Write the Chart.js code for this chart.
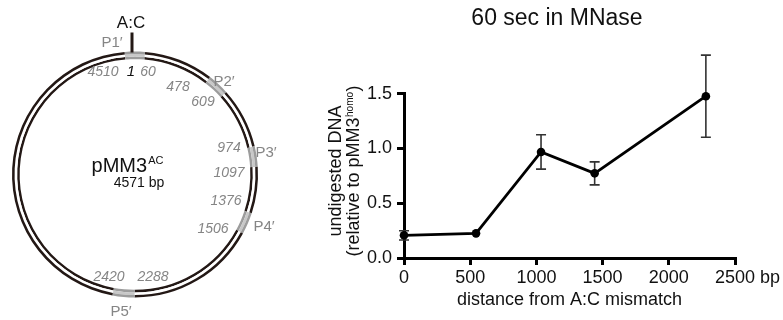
<!DOCTYPE html>
<html>
<head>
<meta charset="utf-8">
<script src="https://cdn.jsdelivr.net/npm/chart.js@4.4.1/dist/chart.umd.min.js"></script>
<style>
  html, body { margin: 0; padding: 0; background: #fff; }
  #wrap { position: relative; width: 783px; height: 320px; overflow: hidden; }
  #plasmidCanvas { position: absolute; left: 0; top: 0; }
  #mnaseCanvas { position: absolute; left: 300px; top: 0; }
</style>
</head>
<body>
<div id="wrap">
  <canvas id="plasmidCanvas" width="300" height="320"></canvas>
  <canvas id="mnaseCanvas" width="483" height="320"></canvas>
</div>
<script>
// plasmid map data
const plasmidLength = 4571;
const primerNames = ["P1′", "P2′", "P3′", "P4′", "P5′"];
const primerStart = [4510, 478, 974, 1376, 2288];
const primerEnd = [60, 609, 1097, 1506, 2420];

// MNase data (60 sec)
const distanceBp = [0, 544, 1035, 1440, 2280];
const undigested = [0.207, 0.225, 0.968, 0.773, 1.477];
const undigestedErr = [0.042, 0, 0.157, 0.105, 0.375];
const xTicks = [0, 500, 1000, 1500, 2000, 2500];
const yTicks = [0, 0.5, 1.0, 1.5];

const FONT = "'Liberation Sans', Arial, Helvetica, sans-serif";
Chart.defaults.font.family = FONT;
Chart.defaults.color = "#111";

const RING = "#231815";
const PRIMER = "#9c9c9c";
const PRIMER_MID = "#c8c8c8";
const LABEL_GREY = "#858585";

// cut the plasmid into segments at every primer end
function buildSegments() {
  const cuts = [0, plasmidLength].concat(primerStart, primerEnd);
  const uniq = [...new Set(cuts)].sort((a, b) => a - b);
  const segs = [];
  for (let i = 0; i < uniq.length - 1; i++) {
    const mid = (uniq[i] + uniq[i + 1]) / 2;
    const inPrimer = primerStart.some((s, k) => {
      const e = primerEnd[k];
      return s < e ? mid >= s && mid <= e : mid >= s || mid <= e;
    });
    segs.push({ len: uniq[i + 1] - uniq[i], primer: inPrimer });
  }
  return segs;
}
const segments = buildSegments();

// text around the plasmid
const plasmidLabels = [
  { t: "A:C", x: 131, y: 23, c: "#111", f: "17px " + FONT },
  { t: primerNames[0], x: 112, y: 43, c: LABEL_GREY, f: "15px " + FONT },
  { t: String(primerStart[0]), x: 103, y: 72, c: LABEL_GREY, f: "italic 14px " + FONT },
  { t: "1", x: 131, y: 72, c: "#111", f: "italic 15px " + FONT },
  { t: String(primerEnd[0]), x: 148, y: 72, c: LABEL_GREY, f: "italic 14px " + FONT },
  { t: primerNames[1], x: 224, y: 82, c: LABEL_GREY, f: "15px " + FONT },
  { t: String(primerStart[1]), x: 178, y: 87, c: LABEL_GREY, f: "italic 14px " + FONT },
  { t: String(primerEnd[1]), x: 203, y: 102, c: LABEL_GREY, f: "italic 14px " + FONT },
  { t: String(primerStart[2]), x: 229, y: 148, c: LABEL_GREY, f: "italic 14px " + FONT },
  { t: primerNames[2], x: 266, y: 153, c: LABEL_GREY, f: "15px " + FONT },
  { t: String(primerEnd[2]), x: 229, y: 173, c: LABEL_GREY, f: "italic 14px " + FONT },
  { t: String(primerStart[3]), x: 226, y: 201, c: LABEL_GREY, f: "italic 14px " + FONT },
  { t: primerNames[3], x: 264, y: 227, c: LABEL_GREY, f: "15px " + FONT },
  { t: String(primerEnd[3]), x: 213, y: 229, c: LABEL_GREY, f: "italic 14px " + FONT },
  { t: String(primerEnd[4]), x: 109, y: 277, c: LABEL_GREY, f: "italic 14px " + FONT },
  { t: String(primerStart[4]), x: 153, y: 277, c: LABEL_GREY, f: "italic 14px " + FONT },
  { t: primerNames[4], x: 121, y: 312, c: LABEL_GREY, f: "15px " + FONT },
  { t: plasmidLength + " bp", x: 139, y: 183, c: "#111", f: "14px " + FONT },
];

const plasmidTextPlugin = {
  id: "plasmidText",
  afterDraw(chart) {
    const ctx = chart.ctx;
    const ca = chart.chartArea;
    const cx = (ca.left + ca.right) / 2;
    ctx.save();
    // A:C mismatch tick
    ctx.strokeStyle = RING;
    ctx.lineWidth = 3;
    ctx.beginPath();
    ctx.moveTo(cx - 3, ca.top - 19);
    ctx.lineTo(cx - 3, ca.top + 1);
    ctx.stroke();

    ctx.textAlign = "center";
    ctx.textBaseline = "middle";
    plasmidLabels.forEach((l) => {
      ctx.font = l.f;
      ctx.fillStyle = l.c;
      ctx.fillText(l.t, l.x, l.y);
    });

    // plasmid name with superscript
    ctx.fillStyle = "#111";
    ctx.font = "20px " + FONT;
    const w1 = ctx.measureText("pMM3").width;
    ctx.font = "11px " + FONT;
    const w2 = ctx.measureText("AC").width;
    const start = 127 - (w1 + w2) / 2;
    ctx.textAlign = "left";
    ctx.font = "20px " + FONT;
    ctx.fillText("pMM3", start, 166);
    ctx.font = "11px " + FONT;
    ctx.fillText("AC", start + w1 + 1, 161);
    ctx.restore();
  },
};

new Chart(document.getElementById("plasmidCanvas"), {
  type: "doughnut",
  data: {
    labels: segments.map((s, i) => "seg" + i),
    datasets: [
      { data: segments.map((s) => s.len), backgroundColor: segments.map((s) => (s.primer ? PRIMER : RING)), weight: 1 },
      { data: segments.map((s) => s.len), backgroundColor: segments.map((s) => (s.primer ? PRIMER_MID : "#ffffff")), weight: 1 },
      { data: segments.map((s) => s.len), backgroundColor: segments.map((s) => (s.primer ? PRIMER : RING)), weight: 1 },
    ],
  },
  options: {
    responsive: false,
    animation: false,
    events: [],
    cutout: "93.8%",
    borderWidth: 0,
    hoverOffset: 0,
    offset: 0,
    layout: { padding: { left: 12, top: 51.5, right: 42, bottom: 22.5 } },
    plugins: { legend: { display: false }, tooltip: { enabled: false } },
  },
  plugins: [plasmidTextPlugin],
});

// error bars, drawn under the line and points
const errorBarPlugin = {
  id: "errorBars",
  beforeDatasetsDraw(chart) {
    const ctx = chart.ctx;
    const xs = chart.scales.x;
    const ys = chart.scales.y;
    ctx.save();
    ctx.strokeStyle = "#333";
    ctx.lineWidth = 1.6;
    distanceBp.forEach((d, i) => {
      const e = undigestedErr[i];
      if (!e) return;
      const px = xs.getPixelForValue(d);
      const top = ys.getPixelForValue(undigested[i] + e);
      const bot = ys.getPixelForValue(undigested[i] - e);
      ctx.beginPath();
      ctx.moveTo(px, top);
      ctx.lineTo(px, bot);
      ctx.moveTo(px - 5, top);
      ctx.lineTo(px + 5, top);
      ctx.moveTo(px - 5, bot);
      ctx.lineTo(px + 5, bot);
      ctx.stroke();
    });
    ctx.restore();
  },
};

// title, y-axis title with superscript, and "bp" after the last tick
const textPlugin = {
  id: "mnaseText",
  afterDraw(chart) {
    const ctx = chart.ctx;
    ctx.save();
    ctx.fillStyle = "#111";
    ctx.textAlign = "center";
    ctx.textBaseline = "middle";
    ctx.font = "23px " + FONT;
    ctx.fillText("60 sec in MNase", 257, 19);

    // y title, line 1
    ctx.font = "18px " + FONT;
    ctx.save();
    ctx.translate(36, 171);
    ctx.rotate(-Math.PI / 2);
    ctx.fillText("undigested DNA", 0, 0);
    ctx.restore();

    // y title, line 2
    const a = "(relative to pMM3";
    const sup = "homo";
    const b = ")";
    ctx.font = "18px " + FONT;
    const wa = ctx.measureText(a).width;
    const wb = ctx.measureText(b).width;
    ctx.font = "10px " + FONT;
    const ws = ctx.measureText(sup).width;
    const total = wa + ws + wb + 1;
    ctx.save();
    ctx.translate(54, 171);
    ctx.rotate(-Math.PI / 2);
    ctx.textAlign = "left";
    let x = -total / 2;
    ctx.font = "18px " + FONT;
    ctx.fillText(a, x, 0);
    x += wa + 0.5;
    ctx.font = "10px " + FONT;
    ctx.fillText(sup, x, -4);
    x += ws + 0.5;
    ctx.font = "18px " + FONT;
    ctx.fillText(b, x, 0);
    ctx.restore();

    // "bp" unit after 2500
    const xs = chart.scales.x;
    const items = xs.getLabelItems ? xs.getLabelItems() : [];
    const last = items[items.length - 1];
    ctx.font = "18px " + FONT;
    const wl = ctx.measureText(String(xTicks[xTicks.length - 1])).width;
    ctx.textAlign = "left";
    if (last) {
      ctx.textBaseline = last.options.textBaseline;
      ctx.fillText("bp", last.options.translation[0] + wl / 2 + 5, last.options.translation[1] + last.textOffset);
    }
    ctx.restore();
  },
};

new Chart(document.getElementById("mnaseCanvas"), {
  type: "line",
  data: {
    datasets: [
      {
        data: distanceBp.map((d, i) => ({ x: d, y: undigested[i] })),
        borderColor: "#000",
        backgroundColor: "#000",
        borderWidth: 2.8,
        pointRadius: 4.3,
        pointBackgroundColor: "#000",
        pointBorderWidth: 0,
        tension: 0,
        clip: false,
      },
    ],
  },
  options: {
    responsive: false,
    animation: false,
    events: [],
    layout: { padding: { left: 0, top: 93.7, right: 48, bottom: 0 } },
    plugins: { legend: { display: false }, tooltip: { enabled: false } },
    scales: {
      x: {
        type: "linear",
        min: 0,
        max: 2500,
        afterBuildTicks: (s) => { s.ticks = xTicks.map((v) => ({ value: v })); },
        afterFit: (s) => { s.height = 62; },
        grid: { display: true, drawOnChartArea: false, drawTicks: true, tickLength: 7, lineWidth: 3, color: "#000" },
        border: { display: true, width: 3, color: "#000" },
        ticks: { font: { size: 18 }, color: "#111", padding: 2, maxRotation: 0, callback: (v) => String(v) },
        title: { display: true, text: "distance from A:C mismatch", font: { size: 18 }, color: "#111", padding: { top: 0, bottom: 9 } },
      },
      y: {
        min: 0,
        max: 1.5,
        afterBuildTicks: (s) => { s.ticks = yTicks.map((v) => ({ value: v })); },
        afterFit: (s) => { s.width = 104; },
        grid: { display: true, drawOnChartArea: false, drawTicks: true, tickLength: 7, lineWidth: 3, color: "#000" },
        border: { display: true, width: 3, color: "#000" },
        ticks: { font: { size: 18 }, color: "#111", padding: 5, callback: (v) => Number(v).toFixed(1) },
      },
    },
  },
  plugins: [errorBarPlugin, textPlugin],
});
</script>
</body>
</html>
